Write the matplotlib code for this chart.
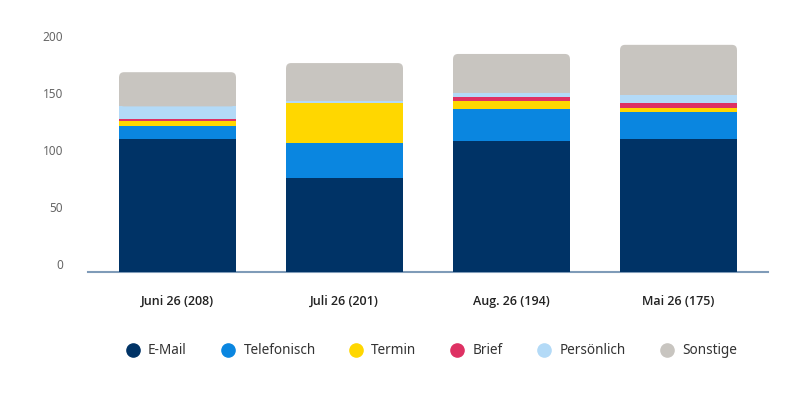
import matplotlib
matplotlib.use("Agg")
import matplotlib.pyplot as plt
from matplotlib.patches import FancyBboxPatch, Rectangle
from matplotlib.lines import Line2D
from matplotlib import transforms

plt.rcParams['font.family'] = ['Noto Sans', 'DejaVu Sans']

# data
categories = ['Juni 26 (208)', 'Juli 26 (201)', 'Aug. 26 (194)', 'Mai 26 (175)']
series_names = ['E-Mail', 'Telefonisch', 'Termin', 'Brief', 'Persönlich', 'Sonstige']
email = [116, 82, 115, 116]
telefonisch = [12, 31, 28, 24]
termin = [4, 35, 7, 4]
brief = [2, 0, 3, 4]
persoenlich = [11, 2, 4, 7]
sonstige = [30, 33, 34, 44]
yticks = [0, 50, 100, 150, 200]

colors = ['#003366', '#0a86e0', '#ffd700', '#de3163', '#b3daf7', '#c8c5c0']
series = [email, telefonisch, termin, brief, persoenlich, sonstige]

W, H = 800, 400
fig = plt.figure(figsize=(8, 4), dpi=100)
ax = fig.add_axes([88 / W, 1 - 271.7 / H, 680 / W, (271.7 - 43.7) / H])
ax.set_xlim(-0.536, 3.536)
ax.set_ylim(0, 200)

bar_w = 0.70
radius_px = 5
x_per_px = (3.536 + 0.536) / 680
y_per_px = 200 / 228
aspect = y_per_px / x_per_px
r_x = radius_px * x_per_px
r_y = radius_px * y_per_px

for i in range(len(categories)):
    bottom = 0
    n = len(series)
    for k, (vals, col) in enumerate(zip(series, colors)):
        v = vals[i]
        if v <= 0:
            continue
        left = i - bar_w / 2
        if k == n - 1:
            # top segment gets rounded top corners
            ax.add_patch(FancyBboxPatch((left, bottom), bar_w, v,
                                        boxstyle=f"round,pad=0,rounding_size={r_x}",
                                        mutation_aspect=aspect, fc=col, ec='none', zorder=3))
            ax.add_patch(Rectangle((left, bottom), bar_w, v - r_y, fc=col, ec='none', zorder=3))
        else:
            ax.add_patch(Rectangle((left, bottom), bar_w, v, fc=col, ec='none', zorder=3))
        bottom += v

for s in ['top', 'right', 'left']:
    ax.spines[s].set_visible(False)
ax.spines['bottom'].set_color('#7f9bb8')
ax.spines['bottom'].set_linewidth(1.5)
ax.set_xticks([])
ax.set_yticks([])

# y tick labels sit a few pixels above their value
ytrans = transforms.offset_copy(ax.get_yaxis_transform(), fig=fig, x=0, y=6, units='dots')
for v in yticks:
    ax.text(-25 / 680, v, str(v), transform=ytrans, ha='right', va='center',
            fontsize=8.5, color='#666666')

xtrans = transforms.offset_copy(ax.get_xaxis_transform(), fig=fig, x=0, y=-30, units='dots')
for i, c in enumerate(categories):
    ax.text(i, 0, c, transform=xtrans, ha='center', va='center',
            fontsize=9, fontweight='semibold', color='#222222',
            family=['Open Sans', 'Noto Sans', 'DejaVu Sans'])

# legend drawn by hand
marker_x = [133, 228, 356, 457, 544, 667]
text_x = [148, 244, 371, 473, 560, 682]
leg_y = 1 - 350 / H
for name, col, mx, tx in zip(series_names, colors, marker_x, text_x):
    fig.add_artist(Line2D([mx / W], [leg_y], marker='o', markersize=9.5, color=col,
                          linestyle='none', transform=fig.transFigure))
    fig.text(tx / W, leg_y, name, ha='left', va='center', fontsize=9.75, color='#333333')

fig.savefig('out.png', dpi=100)
